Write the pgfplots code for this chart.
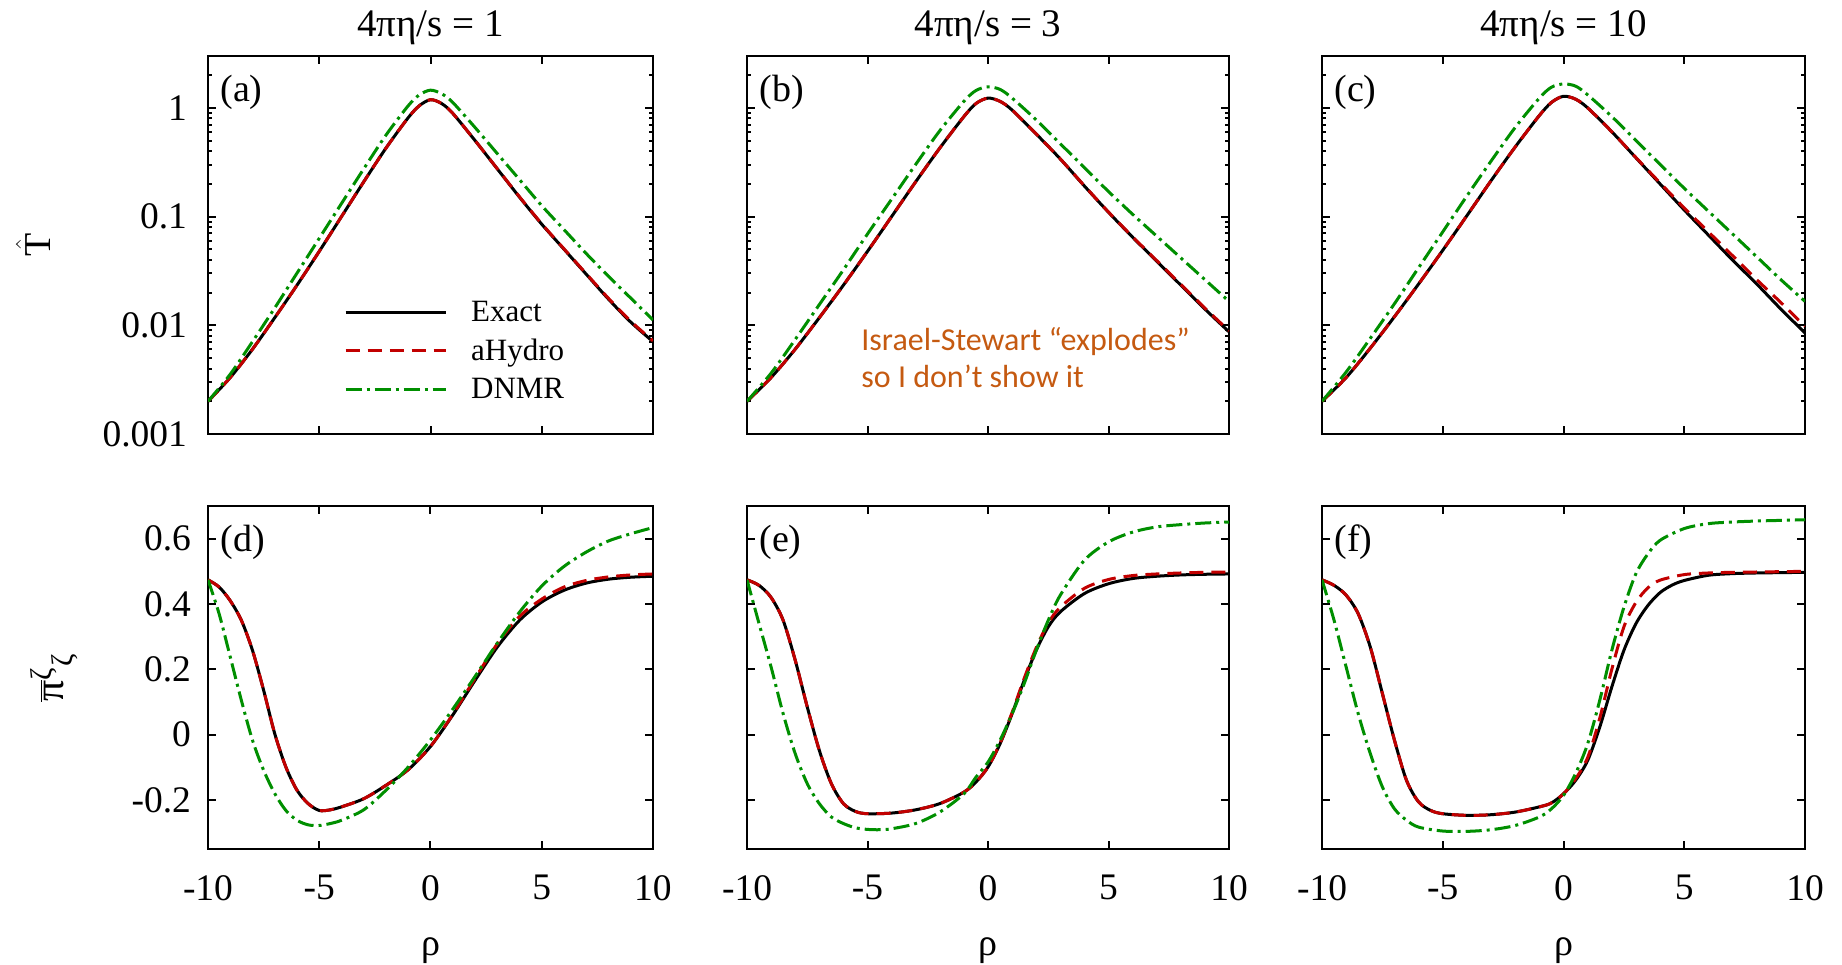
\documentclass[border=0pt]{standalone}
\usepackage{pgfplots}
\pgfplotsset{compat=1.18}
\usepackage{fontspec}
\setmainfont{Liberation Serif}
\newfontfamily\calibri{Carlito}
\definecolor{exred}{rgb}{0.76,0.0,0.0}
\definecolor{exgreen}{rgb}{0.0,0.56,0.0}
\definecolor{isorange}{HTML}{C55A11}

\pgfplotsset{
  panel/.style={scale only axis, xmin=-10, xmax=10, xtick={-10,-5,0,5,10},
    axis line style={line width=1.3pt},
    every tick/.style={black, line width=1pt},
    major tick length=4pt, minor tick length=2pt,
    tick label style={font=\fontsize{18.75}{20}\selectfont},
    label style={font=\fontsize{19}{22}\selectfont},
    title style={font=\fontsize{19.5}{22}\selectfont, at={(rel axis cs:0.5,1)}, anchor=base, yshift=4pt, inner sep=0pt}},
  toprow/.style={panel, ymin=0.001, ymax=3, height=189pt,
    xticklabels={},
    ytick={0.001,0.01,0.1,1},
    minor ytick={0.002,0.003,0.004,0.005,0.006,0.007,0.008,0.009,0.02,0.03,0.04,0.05,0.06,0.07,0.08,0.09,0.2,0.3,0.4,0.5,0.6,0.7,0.8,0.9,2,3},
    yticklabel style={xshift=-7pt}},
  botrow/.style={panel, ymin=-0.35, ymax=0.7, height=171.5pt,
    ytick={-0.2,0,0.2,0.4,0.6},
    xticklabels={-10,-5,0,5,10}, xticklabel style={yshift=-9.5pt},
    yticklabel style={xshift=-5pt},
    xlabel={ρ}, xlabel style={at={(rel axis cs:0.5,0)}, anchor=center, yshift=-51pt}},
  exact/.style={black, line width=1.5pt, smooth},
  ahydro/.style={exred, line width=1.5pt, dash pattern=on 7pt off 4pt, smooth},
  dnmr/.style={exgreen, line width=1.5pt, dash pattern=on 8pt off 2.5pt on 1.5pt off 2.5pt, smooth},
}
\newcommand{\plab}[1]{\node[anchor=west, inner sep=0pt, font=\fontsize{19}{22}\selectfont] at (rel axis cs:0,1) [xshift=6pt, yshift=-18pt] {(#1)};}

\begin{document}
\begin{tikzpicture}
\useasboundingbox (0,0) rectangle (921pt,-482pt);

% ---------------- (a)
\begin{semilogyaxis}[toprow, width=222.5pt, at={(104pt,-28pt)}, anchor=north west,
  title={4πη/s = 1},
  yticklabels={0.001,0.01,0.1,1},
  ylabel={$\hat{\mbox{T}}$}, ylabel style={at={(rel axis cs:0,0.5)}, anchor=center, yshift=87.5pt},
  legend style={at={(rel axis cs:0.305,0.22)}, anchor=west, draw=none, fill=none, inner sep=0pt,
    font=\fontsize{15.5}{18}\selectfont, row sep=5.3pt,
    nodes={inner sep=1pt}, /tikz/every odd column/.style={column sep=11pt}},
  legend cell align=left,
  legend image code/.code={\draw[#1] (0pt,0pt) -- (50pt,0pt);}]
\addplot[exact] coordinates {(-10,0.00200) (-9,0.00331) (-8,0.00603) (-7,0.01175) (-6,0.0234) (-5,0.0479) (-4,0.100) (-3,0.209) (-2,0.427) (-1,0.813) (-0.5,1.047) (0,1.189) (0.5,1.096) (1,0.891) (2,0.501) (3,0.275) (4,0.151) (5,0.0851) (6,0.0501) (7,0.0295) (8,0.0174) (9,0.0107) (10,0.00708)};
\addlegendentry{Exact}
\addplot[ahydro] coordinates {(-10,0.00200) (-9,0.00331) (-8,0.00603) (-7,0.01175) (-6,0.0234) (-5,0.0479) (-4,0.100) (-3,0.209) (-2,0.427) (-1,0.813) (-0.5,1.047) (0,1.189) (0.5,1.096) (1,0.891) (2,0.501) (3,0.276) (4,0.152) (5,0.0858) (6,0.0505) (7,0.0298) (8,0.0177) (9,0.0109) (10,0.0072)};
\addlegendentry{aHydro}
\addplot[dnmr] coordinates {(-10,0.00200) (-9,0.00355) (-8,0.00708) (-7,0.01445) (-6,0.0302) (-5,0.0631) (-4,0.132) (-3,0.275) (-2,0.562) (-1,1.047) (-0.5,1.318) (0,1.455) (0.5,1.349) (1,1.122) (2,0.661) (3,0.380) (4,0.219) (5,0.126) (6,0.0759) (7,0.0457) (8,0.0282) (9,0.0178) (10,0.0112)};
\addlegendentry{DNMR}
\plab{a}
\end{semilogyaxis}

% ---------------- (b)
\begin{semilogyaxis}[toprow, width=241pt, at={(373.5pt,-28pt)}, anchor=north west, yticklabels={},
  title={4πη/s = 3}]
\addplot[exact] coordinates {(-10,0.00200) (-9,0.00331) (-8,0.00603) (-7,0.01175) (-6,0.0234) (-5,0.0479) (-4,0.100) (-3,0.209) (-2,0.427) (-1,0.832) (-0.5,1.096) (0,1.230) (0.5,1.148) (1,0.955) (2,0.575) (3,0.339) (4,0.191) (5,0.1096) (6,0.0646) (7,0.0389) (8,0.0234) (9,0.0141) (10,0.00871)};
\addplot[ahydro] coordinates {(-10,0.00200) (-9,0.00331) (-8,0.00603) (-7,0.01175) (-6,0.0234) (-5,0.0479) (-4,0.100) (-3,0.209) (-2,0.427) (-1,0.832) (-0.5,1.096) (0,1.230) (0.5,1.148) (1,0.955) (2,0.575) (3,0.339) (4,0.192) (5,0.110) (6,0.0652) (7,0.0394) (8,0.0238) (9,0.0144) (10,0.0089)};
\addplot[dnmr] coordinates {(-10,0.00200) (-9,0.00363) (-8,0.00741) (-7,0.0155) (-6,0.0324) (-5,0.0692) (-4,0.1445) (-3,0.302) (-2,0.617) (-1,1.148) (-0.5,1.445) (0,1.560) (0.5,1.479) (1,1.230) (2,0.776) (3,0.468) (4,0.282) (5,0.170) (6,0.105) (7,0.0661) (8,0.0417) (9,0.0263) (10,0.0166)};
\plab{b}
\node[anchor=base west, inner sep=0pt, text=isorange, font=\calibri\fontsize{16}{19}\selectfont] at (rel axis cs:0.2365,0.220) {Israel-Stewart “explodes”};
\node[anchor=base west, inner sep=0pt, text=isorange, font=\calibri\fontsize{16}{19}\selectfont] at (rel axis cs:0.2365,0.122) {so I don’t show it};
\end{semilogyaxis}

% ---------------- (c)
\begin{semilogyaxis}[toprow, width=241.5pt, at={(661pt,-28pt)}, anchor=north west, yticklabels={},
  title={4πη/s = 10}]
\addplot[exact] coordinates {(-10,0.00200) (-9,0.00331) (-8,0.00617) (-7,0.0120) (-6,0.0240) (-5,0.0490) (-4,0.102) (-3,0.214) (-2,0.437) (-1,0.851) (-0.5,1.122) (0,1.279) (0.5,1.202) (1,1.000) (2,0.603) (3,0.347) (4,0.1995) (5,0.115) (6,0.0676) (7,0.0398) (8,0.0240) (9,0.0141) (10,0.00851)};
\addplot[ahydro] coordinates {(-10,0.00200) (-9,0.00331) (-8,0.00617) (-7,0.0120) (-6,0.0240) (-5,0.0490) (-4,0.102) (-3,0.214) (-2,0.437) (-1,0.851) (-0.5,1.122) (0,1.279) (0.5,1.202) (1,1.000) (2,0.603) (3,0.349) (4,0.204) (5,0.120) (6,0.0724) (7,0.0437) (8,0.0263) (9,0.0162) (10,0.00977)};
\addplot[dnmr] coordinates {(-10,0.00200) (-9,0.00372) (-8,0.00759) (-7,0.0158) (-6,0.0339) (-5,0.0724) (-4,0.155) (-3,0.324) (-2,0.661) (-1,1.230) (-0.5,1.549) (0,1.660) (0.5,1.585) (1,1.318) (2,0.832) (3,0.501) (4,0.302) (5,0.182) (6,0.112) (7,0.0692) (8,0.0427) (9,0.0263) (10,0.0166)};
\plab{c}
\end{semilogyaxis}

% ---------------- (d)
\begin{axis}[botrow, width=222.5pt, at={(104pt,-253pt)}, anchor=north west,
  yticklabels={-0.2,0,0.2,0.4,0.6},
  ylabel={$\overline{\mbox{\fontsize{21}{24}\selectfont π}}^{\mbox{\fontsize{15}{17}\selectfont ζ}}{}_{\mbox{\fontsize{15}{17}\selectfont ζ}}$},
  ylabel style={at={(rel axis cs:0,0.5)}, anchor=center, yshift=77pt}]
\addplot[exact] coordinates {(-10,0.474) (-9.5,0.452) (-9,0.41) (-8.5,0.35) (-8,0.258) (-7.5,0.136) (-7,0.003) (-6.5,-0.099) (-6,-0.170) (-5.5,-0.211) (-5,-0.232) (-4.5,-0.230) (-4,-0.221) (-3,-0.196) (-2,-0.155) (-1,-0.107) (0,-0.036) (1,0.060) (2,0.166) (3,0.268) (4,0.35) (5,0.406) (6,0.442) (7,0.464) (8,0.476) (9,0.482) (10,0.485)};
\addplot[ahydro] coordinates {(-10,0.474) (-9.5,0.452) (-9,0.41) (-8.5,0.35) (-8,0.258) (-7.5,0.136) (-7,0.003) (-6.5,-0.099) (-6,-0.170) (-5.5,-0.211) (-5,-0.232) (-4.5,-0.230) (-4,-0.221) (-3,-0.196) (-2,-0.155) (-1,-0.107) (0,-0.036) (1,0.062) (2,0.172) (3,0.278) (4,0.362) (5,0.415) (6,0.452) (7,0.472) (8,0.483) (9,0.489) (10,0.492)};
\addplot[dnmr] coordinates {(-10,0.474) (-9.5,0.37) (-9,0.238) (-8.5,0.105) (-8,-0.017) (-7.5,-0.109) (-7,-0.18) (-6.5,-0.232) (-6,-0.262) (-5.5,-0.276) (-5,-0.278) (-4.5,-0.272) (-4,-0.262) (-3,-0.230) (-2,-0.170) (-1,-0.099) (0,-0.016) (1,0.078) (2,0.178) (3,0.28) (4,0.375) (5,0.455) (6,0.515) (7,0.559) (8,0.593) (9,0.615) (10,0.634)};
\plab{d}
\end{axis}

% ---------------- (e)
\begin{axis}[botrow, width=241pt, at={(373.5pt,-253pt)}, anchor=north west, yticklabels={}]
\addplot[exact] coordinates {(-10,0.474) (-9.5,0.457) (-9,0.42) (-8.5,0.35) (-8,0.228) (-7.5,0.085) (-7,-0.048) (-6.5,-0.15) (-6,-0.211) (-5.5,-0.235) (-5,-0.242) (-4,-0.24) (-3,-0.230) (-2,-0.211) (-1,-0.176) (-0.5,-0.145) (0,-0.099) (0.5,-0.028) (1,0.064) (1.5,0.166) (2,0.258) (2.5,0.33) (3,0.376) (4,0.432) (5,0.462) (6,0.478) (7,0.485) (8,0.489) (9,0.491) (10,0.492)};
\addplot[ahydro] coordinates {(-10,0.474) (-9.5,0.457) (-9,0.42) (-8.5,0.35) (-8,0.228) (-7.5,0.085) (-7,-0.048) (-6.5,-0.15) (-6,-0.211) (-5.5,-0.235) (-5,-0.242) (-4,-0.24) (-3,-0.230) (-2,-0.211) (-1,-0.176) (-0.5,-0.145) (0,-0.099) (0.5,-0.026) (1,0.068) (1.5,0.172) (2,0.266) (2.5,0.342) (3,0.39) (4,0.448) (5,0.475) (6,0.487) (7,0.492) (8,0.495) (9,0.497) (10,0.498)};
\addplot[dnmr] coordinates {(-10,0.474) (-9.5,0.34) (-9,0.207) (-8.5,0.064) (-8,-0.058) (-7.5,-0.15) (-7,-0.211) (-6.5,-0.252) (-6,-0.272) (-5.5,-0.285) (-5,-0.29) (-4.5,-0.291) (-4,-0.288) (-3,-0.272) (-2,-0.237) (-1,-0.181) (-0.5,-0.13) (0,-0.084) (0.5,-0.017) (1,0.064) (1.5,0.156) (2,0.258) (2.5,0.35) (3,0.427) (4,0.534) (5,0.59) (6,0.62) (7,0.636) (8,0.643) (9,0.648) (10,0.651)};
\plab{e}
\end{axis}

% ---------------- (f)
\begin{axis}[botrow, width=241.5pt, at={(661pt,-253pt)}, anchor=north west, yticklabels={}]
\addplot[exact] coordinates {(-10,0.474) (-9.5,0.457) (-9,0.427) (-8.5,0.37) (-8,0.268) (-7.5,0.126) (-7,-0.017) (-6.5,-0.14) (-6,-0.206) (-5.5,-0.232) (-5,-0.242) (-4,-0.247) (-3,-0.245) (-2,-0.237) (-1,-0.221) (-0.5,-0.209) (0,-0.181) (0.5,-0.14) (1,-0.079) (1.5,0.023) (2,0.146) (2.5,0.258) (3,0.34) (3.5,0.396) (4,0.435) (4.5,0.458) (5,0.472) (6,0.488) (7,0.493) (8,0.495) (9,0.496) (10,0.497)};
\addplot[ahydro] coordinates {(-10,0.474) (-9.5,0.457) (-9,0.427) (-8.5,0.37) (-8,0.268) (-7.5,0.126) (-7,-0.017) (-6.5,-0.14) (-6,-0.206) (-5.5,-0.232) (-5,-0.242) (-4,-0.247) (-3,-0.245) (-2,-0.237) (-1,-0.221) (-0.5,-0.209) (0,-0.181) (0.5,-0.135) (1,-0.07) (1.5,0.05) (2,0.2) (2.5,0.33) (3,0.405) (3.5,0.45) (4,0.473) (5,0.49) (6,0.495) (7,0.497) (8,0.498) (9,0.499) (10,0.5)};
\addplot[dnmr] coordinates {(-10,0.474) (-9.5,0.35) (-9,0.207) (-8.5,0.064) (-8,-0.058) (-7.5,-0.16) (-7,-0.227) (-6.5,-0.262) (-6,-0.283) (-5,-0.295) (-4,-0.296) (-3,-0.291) (-2,-0.278) (-1,-0.252) (-0.5,-0.227) (0,-0.186) (0.5,-0.119) (1,-0.028) (1.5,0.105) (2,0.258) (2.5,0.39) (3,0.493) (3.5,0.554) (4,0.595) (5,0.631) (6,0.646) (7,0.651) (8,0.654) (9,0.656) (10,0.658)};
\plab{f}
\end{axis}
\end{tikzpicture}
\end{document}
